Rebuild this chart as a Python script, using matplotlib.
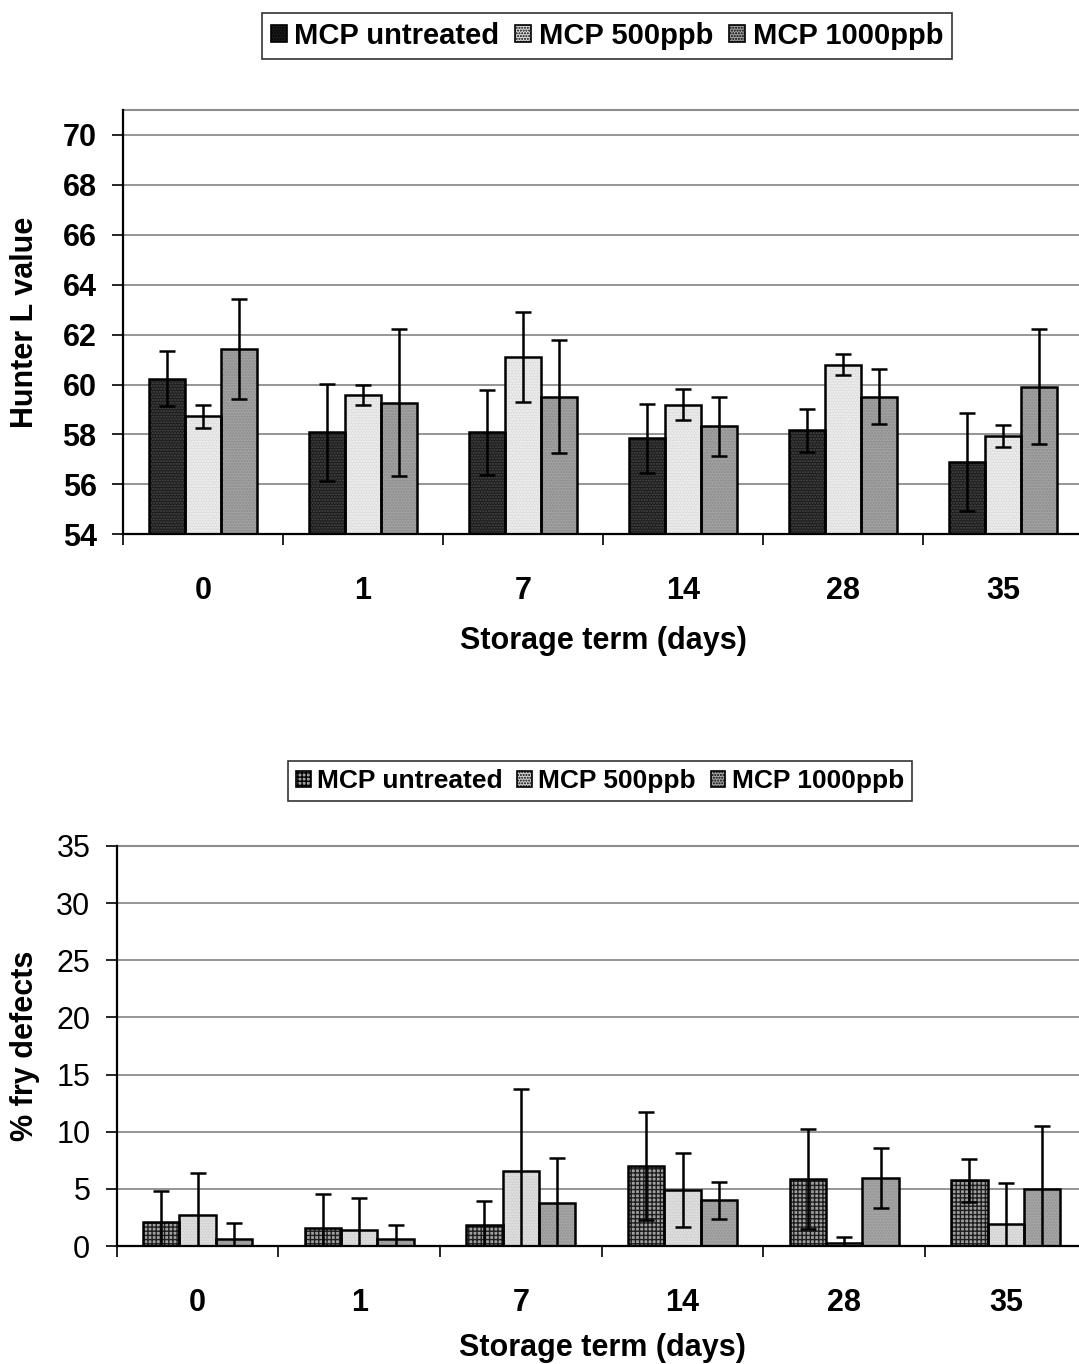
import matplotlib
matplotlib.use("Agg")
import matplotlib.pyplot as plt
from matplotlib.patches import Patch
import numpy as np

plt.rcParams['font.family'] = ['Liberation Sans', 'DejaVu Sans']

days = ['0', '1', '7', '14', '28', '35']
series = ['MCP untreated', 'MCP 500ppb', 'MCP 1000ppb']

# Hunter L value (top chart)
hl_untreated = [60.24, 58.08, 58.08, 57.84, 58.16, 56.88]
hl_500 = [58.72, 59.60, 61.12, 59.20, 60.80, 57.92]
hl_1000 = [61.44, 59.28, 59.52, 58.32, 59.52, 59.92]
hl_err_untreated = [1.10, 1.93, 1.70, 1.38, 0.88, 1.96]
hl_err_500 = [0.45, 0.40, 1.80, 0.64, 0.42, 0.44]
hl_err_1000 = [2.00, 2.95, 2.25, 1.20, 1.12, 2.32]

# % fry defects (bottom chart)
fd_untreated = [2.10, 1.58, 1.81, 6.97, 5.86, 5.77]
fd_500 = [2.69, 1.40, 6.60, 4.90, 0.30, 1.90]
fd_1000 = [0.64, 0.58, 3.80, 4.00, 5.95, 4.99]
fd_err_untreated = [2.69, 2.94, 2.16, 4.73, 4.41, 1.88]
fd_err_500 = [3.67, 2.77, 7.11, 3.27, 0.52, 3.65]
fd_err_1000 = [1.36, 1.23, 3.87, 1.60, 2.65, 5.54]

W, H = 1079, 1364
fig = plt.figure(figsize=(W / 100, H / 100), dpi=100)


def fpos(left, top, right, bottom):
    return [left / W, 1 - bottom / H, (right - left) / W, (bottom - top) / H]


def draw_bars(ax, vals, errs, styles):
    x = np.arange(len(days))
    bw = 0.225
    for i, (v, e, st) in enumerate(zip(vals, errs, styles)):
        xi = x + (i - 1) * bw
        fc, hatch, hc = st
        ax.bar(xi, v, bw, color=fc, hatch=hatch, edgecolor=hc, linewidth=0, zorder=2)
        ax.bar(xi, v, bw, facecolor='none', edgecolor='black', linewidth=1.8, zorder=3)
        ax.errorbar(xi, v, yerr=e, fmt='none', ecolor='black', elinewidth=1.8,
                    capsize=5.5, capthick=1.8, zorder=4)


def style_axes(ax, bold_y):
    ax.set_xlim(-0.5, 5.5)
    ax.set_xticks(np.arange(6))
    ax.set_xticklabels(days, fontsize=22, fontweight='bold')
    ax.set_xticks(np.arange(-0.5, 6.0, 1.0), minor=True)
    ax.tick_params(axis='x', which='major', length=0, pad=30)
    ax.tick_params(axis='x', which='minor', length=8, width=1.2, direction='out')
    ax.tick_params(axis='y', length=8, width=1.2, direction='out', pad=11, labelsize=22)
    if bold_y:
        for t in ax.get_yticklabels():
            t.set_fontweight('bold')
    ax.yaxis.grid(True, color='#8c8c8c', linewidth=1.3, zorder=0)
    ax.set_axisbelow(True)
    for s in ['left', 'bottom']:
        ax.spines[s].set_linewidth(1.6)
        ax.spines[s].set_zorder(5)
    ax.spines['top'].set_color('#8c8c8c')
    ax.spines['top'].set_linewidth(1.5)
    ax.spines['right'].set_visible(False)


# ---- top chart
ax1 = fig.add_axes(fpos(123, 110, 1083, 534.3))
top_styles = [('#1c1c1c', '......', '#4a4a4a'),
              ('#dedede', '......', '#f4f4f4'),
              ('#a2a2a2', '......', '#8a8a8a')]
draw_bars(ax1, [hl_untreated, hl_500, hl_1000],
          [hl_err_untreated, hl_err_500, hl_err_1000], top_styles)
ax1.set_ylim(54, 71)
ax1.set_yticks(np.arange(54, 71, 2))
style_axes(ax1, True)

fig.text(25 / W, 1 - 322 / H, 'Hunter L value', rotation=90, ha='center', va='center',
         fontsize=22, fontweight='bold')
fig.text(603 / W, 1 - 641 / H, 'Storage term (days)', ha='center', va='center',
         fontsize=22, fontweight='bold')

h1 = [Patch(facecolor=st[0], hatch=st[1], edgecolor='black', linewidth=1.2) for st in top_styles]
leg1 = fig.legend(h1, series, loc='center', bbox_to_anchor=(607 / W, 1 - 36 / H), ncol=3,
                  prop={'size': 21, 'weight': 'bold'}, frameon=True, fancybox=False,
                  edgecolor='black', handlelength=0.55, handleheight=0.55, handletextpad=0.25,
                  columnspacing=0.55, borderpad=0.3, borderaxespad=0)
leg1.get_frame().set_linewidth(1.2)

# ---- bottom chart
ax2 = fig.add_axes(fpos(116.7, 846, 1086.7, 1246))
bot_styles = [('#a0a0a0', '++++', '#1e1e1e'),
              ('#d2d2d2', '......', '#e6e6e6'),
              ('#a6a6a6', '......', '#929292')]
draw_bars(ax2, [fd_untreated, fd_500, fd_1000],
          [fd_err_untreated, fd_err_500, fd_err_1000], bot_styles)
ax2.set_ylim(0, 35)
ax2.set_yticks(np.arange(0, 36, 5))
style_axes(ax2, False)

fig.text(25 / W, 1 - 1046 / H, '% fry defects', rotation=90, ha='center', va='center',
         fontsize=22, fontweight='bold')
fig.text(602 / W, 1 - 1348 / H, 'Storage term (days)', ha='center', va='center',
         fontsize=22, fontweight='bold')

h2 = [Patch(facecolor=st[0], hatch=st[1], edgecolor='black', linewidth=1.2) for st in bot_styles]
leg2 = fig.legend(h2, series, loc='center', bbox_to_anchor=(600 / W, 1 - 781 / H), ncol=3,
                  prop={'size': 19, 'weight': 'bold'}, frameon=True, fancybox=False,
                  edgecolor='black', handlelength=0.55, handleheight=0.55, handletextpad=0.25,
                  columnspacing=0.55, borderpad=0.3, borderaxespad=0)
leg2.get_frame().set_linewidth(1.2)

fig.savefig('out.png', dpi=100)
